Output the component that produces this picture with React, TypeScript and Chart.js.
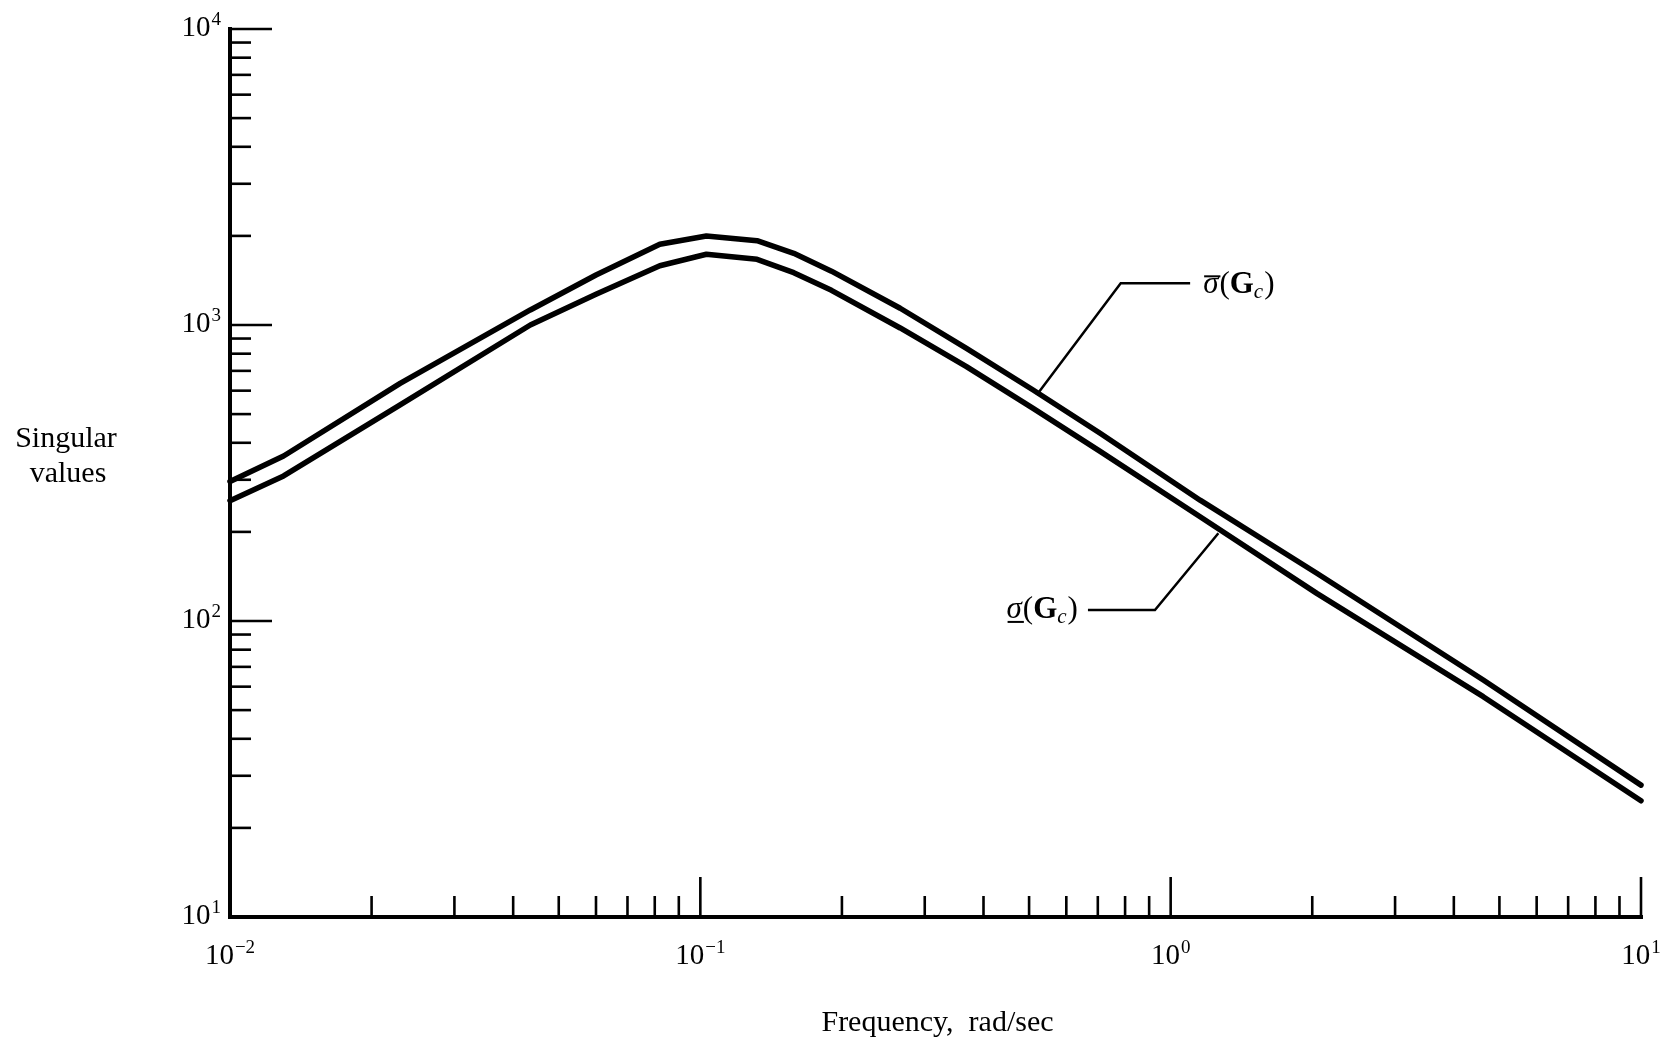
import { useEffect, useRef } from "react";
import { Chart, registerables } from "chart.js";

Chart.register(...registerables);

// ---------------- data ----------------
const frequencies = [0.01, 0.013, 0.023, 0.0435, 0.06, 0.082, 0.103, 0.132, 0.158, 0.19, 0.266, 0.368, 0.51, 0.708, 1.155, 2.045, 4.62, 10];
const sigmaMaxValues = [296, 361, 635, 1124, 1475, 1873, 1999, 1927, 1747, 1520, 1139, 834, 603, 431, 256, 145, 63.2, 27.9];
const sigmaMinValues = [255, 309, 537, 1000, 1270, 1585, 1734, 1667, 1502, 1310, 977, 723, 523, 374, 225, 124, 55.5, 24.7];

const xDecades = [0.01, 0.1, 1, 10];
const xTickExponents = ["\u22122", "\u22121", "0", "1"];
const yDecades = [10, 100, 1000, 10000];
const yTickExponents = ["1", "2", "3", "4"];
const minorMultipliers = [2, 3, 4, 5, 6, 7, 8, 9];

const xAxisTitle = "Frequency,  rad/sec";
const yAxisTitleLines = ["Singular", "values"];

// leader lines (data space): curve point -> elbow -> label end
const maxLeader = [
  [0.519, 580],
  [0.783, 1383],
  [1.1, 1383],
];
const minLeader = [
  [1.263, 198],
  [0.926, 109],
  [0.667, 109],
];

// ---------------- styling ----------------
const SERIF = '"Liberation Serif", "DejaVu Serif", serif';
const TICK_SIZE = 29;
const SUP_SIZE = 19;

function drawPower(ctx: CanvasRenderingContext2D, exp: string, x: number, baseline: number, align: "right" | "center") {
  ctx.font = `${TICK_SIZE}px ${SERIF}`;
  const w1 = ctx.measureText("10").width;
  ctx.font = `${SUP_SIZE}px ${SERIF}`;
  const w2 = ctx.measureText(exp).width;
  const total = w1 + 1 + w2;
  const x0 = align === "right" ? x - total : x - total / 2;
  ctx.textAlign = "left";
  ctx.textBaseline = "alphabetic";
  ctx.font = `${TICK_SIZE}px ${SERIF}`;
  ctx.fillText("10", x0, baseline);
  ctx.font = `${SUP_SIZE}px ${SERIF}`;
  ctx.fillText(exp, x0 + w1 + 1, baseline - 11);
}

function drawSigmaLabel(ctx: CanvasRenderingContext2D, x: number, baseline: number, align: "left" | "right", bar: "over" | "under") {
  const main = 31;
  const sub = 21;
  const parts: { t: string; font: string; dy: number; pad: number }[] = [
    { t: "\u03C3", font: `italic ${main}px ${SERIF}`, dy: 0, pad: 1 },
    { t: "(", font: `${main}px ${SERIF}`, dy: 0, pad: 0 },
    { t: "G", font: `bold ${main}px ${SERIF}`, dy: 0, pad: 0 },
    { t: "c", font: `italic ${sub}px ${SERIF}`, dy: 5, pad: 1 },
    { t: ")", font: `${main}px ${SERIF}`, dy: 0, pad: 0 },
  ];
  const widths = parts.map((p) => {
    ctx.font = p.font;
    return ctx.measureText(p.t).width + p.pad;
  });
  const total = widths.reduce((s, w) => s + w, 0);
  let cx = align === "left" ? x : x - total;
  ctx.textAlign = "left";
  ctx.textBaseline = "alphabetic";
  parts.forEach((p, i) => {
    ctx.font = p.font;
    ctx.fillText(p.t, cx, baseline + p.dy);
    if (i === 0) {
      ctx.lineWidth = 2;
      ctx.beginPath();
      const y = bar === "over" ? baseline - 17 : baseline + 4;
      ctx.moveTo(cx + 1, y);
      ctx.lineTo(cx + widths[0] + 1, y);
      ctx.stroke();
    }
    cx += widths[i];
  });
}

const paperPlugin = {
  id: "paperAxes",
  afterDraw(chart: any) {
    const { ctx, chartArea: a, scales } = chart;
    const xs = scales.x;
    const ys = scales.y;
    ctx.save();
    ctx.strokeStyle = "#000";
    ctx.fillStyle = "#000";

    // axis lines
    ctx.lineWidth = 4;
    ctx.lineCap = "square";
    ctx.beginPath();
    ctx.moveTo(a.left, a.top);
    ctx.lineTo(a.left, a.bottom);
    ctx.lineTo(a.right, a.bottom);
    ctx.stroke();

    // y ticks (inside, to the right)
    ctx.lineCap = "butt";
    ctx.lineWidth = 2.6;
    yDecades.forEach((d, i) => {
      const y = ys.getPixelForValue(d);
      if (i > 0) {
        ctx.beginPath();
        ctx.moveTo(a.left, y);
        ctx.lineTo(a.left + 42, y);
        ctx.stroke();
      }
      if (i < yDecades.length - 1) {
        minorMultipliers.forEach((m) => {
          const yy = ys.getPixelForValue(d * m);
          ctx.beginPath();
          ctx.moveTo(a.left, yy);
          ctx.lineTo(a.left + 21, yy);
          ctx.stroke();
        });
      }
      drawPower(ctx, yTickExponents[i], a.left - 9, y + 7, "right");
    });

    // x ticks (inside, upward)
    xDecades.forEach((d, i) => {
      const x = xs.getPixelForValue(d);
      if (i > 0) {
        ctx.lineWidth = 2.6;
        ctx.beginPath();
        ctx.moveTo(x, a.bottom);
        ctx.lineTo(x, a.bottom - 40);
        ctx.stroke();
      }
      if (i < xDecades.length - 1) {
        minorMultipliers.forEach((m) => {
          const xx = xs.getPixelForValue(d * m);
          ctx.lineWidth = 2.6;
          ctx.beginPath();
          ctx.moveTo(xx, a.bottom);
          ctx.lineTo(xx, a.bottom - 21);
          ctx.stroke();
        });
      }
      drawPower(ctx, xTickExponents[i], x, a.bottom + 47, "center");
    });

    // axis titles
    ctx.font = `30px ${SERIF}`;
    ctx.textAlign = "center";
    ctx.textBaseline = "alphabetic";
    ctx.fillText(xAxisTitle, (a.left + a.right) / 2 + 2, a.bottom + 114);
    ctx.fillText(yAxisTitleLines[0], 66, 447);
    ctx.fillText(yAxisTitleLines[1], 68, 482);

    // leaders
    const drawLeader = (pts: number[][]) => {
      ctx.lineWidth = 2.5;
      ctx.lineJoin = "miter";
      ctx.beginPath();
      pts.forEach(([f, v], k) => {
        const px = xs.getPixelForValue(f);
        const py = ys.getPixelForValue(v);
        if (k === 0) ctx.moveTo(px, py);
        else ctx.lineTo(px, py);
      });
      ctx.stroke();
    };
    drawLeader(maxLeader);
    drawLeader(minLeader);

    const maxEnd = maxLeader[maxLeader.length - 1];
    drawSigmaLabel(ctx, xs.getPixelForValue(maxEnd[0]) + 13, ys.getPixelForValue(maxEnd[1]) + 10, "left", "over");
    const minEnd = minLeader[minLeader.length - 1];
    drawSigmaLabel(ctx, xs.getPixelForValue(minEnd[0]) - 10, ys.getPixelForValue(minEnd[1]) + 8, "right", "under");

    ctx.restore();
  },
};

export default function App() {
  const canvasRef = useRef<HTMLCanvasElement | null>(null);

  useEffect(() => {
    const canvas = canvasRef.current;
    if (!canvas) return;
    const chart = new Chart(canvas, {
      type: "line",
      data: {
        labels: frequencies,
        datasets: [
          {
            label: "sigma max",
            data: frequencies.map((f, i) => ({ x: f, y: sigmaMaxValues[i] })),
            borderColor: "#000",
            borderWidth: 5.5,
            pointRadius: 0,
            tension: 0,
            borderCapStyle: "round",
            borderJoinStyle: "round",
            fill: false,
            clip: 12,
          },
          {
            label: "sigma min",
            data: frequencies.map((f, i) => ({ x: f, y: sigmaMinValues[i] })),
            borderColor: "#000",
            borderWidth: 5.5,
            pointRadius: 0,
            tension: 0,
            borderCapStyle: "round",
            borderJoinStyle: "round",
            fill: false,
            clip: 12,
          },
        ],
      },
      options: {
        animation: false,
        responsive: false,
        devicePixelRatio: 1,
        layout: { padding: { left: 230, right: 37, top: 29, bottom: 124 } },
        plugins: { legend: { display: false }, tooltip: { enabled: false } },
        scales: {
          x: { type: "logarithmic", min: 0.01, max: 10, display: false },
          y: { type: "logarithmic", min: 10, max: 10000, display: false },
        },
      },
      plugins: [paperPlugin],
    });
    return () => chart.destroy();
  }, []);

  return (
    <div style={{ position: "fixed", left: 0, top: 0, width: 1678, height: 1041, background: "#fff" }}>
      <canvas ref={canvasRef} width={1678} height={1041} style={{ display: "block" }} />
    </div>
  );
}
